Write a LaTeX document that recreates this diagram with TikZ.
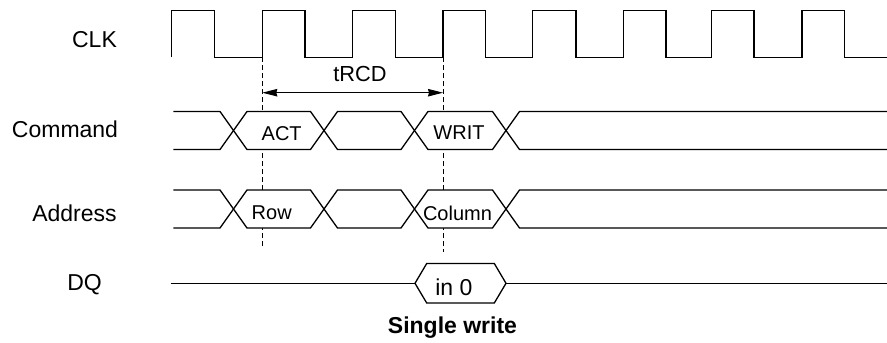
\documentclass[tikz,border=0pt]{standalone}
\usepackage{fontspec}
\setmainfont{Liberation Sans}
\usetikzlibrary{arrows.meta}
\begin{document}
\begin{tikzpicture}[x=1pt,y=-1pt,
  wave/.style={line width=1.3pt, line join=miter},
  bus/.style={line width=1.3pt, line join=miter, fill=white},
  lbl/.style={font=\fontsize{23}{24}\selectfont, inner sep=0pt},
  buslbl/.style={font=\fontsize{20}{21}\selectfont, inner sep=0pt},
  guide/.style={line width=0.9pt, dash pattern=on 5pt off 3pt},
  dim/.style={line width=1pt, {Stealth[length=15pt,width=7.5pt,inset=1pt]}-{Stealth[length=15pt,width=7.5pt,inset=1pt]}}]
\useasboundingbox (0,0) rectangle (887,343);

% guides
\coordinate (g1top) at (262.3,57.3);
\coordinate (g1bot) at (262.3,247);
\coordinate (g2top) at (443,57.3);
\coordinate (g2bot) at (443,252);
\draw[guide] (g1top) -- (g1bot);
\draw[guide] (g2top) -- (g2bot);

% clock
\draw[wave] (171.7,57.3) -- (171.7,10.7) -- (214.3,10.7) -- (214.3,57.3)
  -- (262.3,57.3) -- (262.3,10.7) -- (305,10.7) -- (305,57.3)
  -- (352.7,57.3) -- (352.7,10.7) -- (395.7,10.7) -- (395.7,57.3)
  -- (443,57.3) -- (443,10.7) -- (485.3,10.7) -- (485.3,57.3)
  -- (532.7,57.3) -- (532.7,10.7) -- (576,10.7) -- (576,57.3)
  -- (623.3,57.3) -- (623.3,10.7) -- (666,10.7) -- (666,57.3)
  -- (711.7,57.3) -- (711.7,10.7) -- (754,10.7) -- (754,57.3)
  -- (802,57.3) -- (802,10.7) -- (844.3,10.7) -- (844.3,57.3)
  -- (887,57.3);

% command bus
\def\T{111.5}\def\B{149.5}\def\M{130.5}
\draw[bus] (173.3,\T) -- (220,\T) -- (233.5,\M) -- (220,\B) -- (173.3,\B);
\draw[bus] (233.5,\M) -- (247,\T) -- (310.5,\T) -- (324,\M) -- (310.5,\B) -- (247,\B) -- cycle;
\draw[bus] (324,\M) -- (337.5,\T) -- (401,\T) -- (414.5,\M) -- (401,\B) -- (337.5,\B) -- cycle;
\draw[bus] (414.5,\M) -- (428,\T) -- (492.5,\T) -- (506,\M) -- (492.5,\B) -- (428,\B) -- cycle;
\draw[bus] (887,\T) -- (519.5,\T) -- (506,\M) -- (519.5,\B) -- (887,\B);

% address bus
\def\T{190}\def\B{228}\def\M{209}
\draw[bus] (173.3,\T) -- (220,\T) -- (233.5,\M) -- (220,\B) -- (173.3,\B);
\draw[bus] (233.5,\M) -- (247,\T) -- (310.5,\T) -- (324,\M) -- (310.5,\B) -- (247,\B) -- cycle;
\draw[bus] (324,\M) -- (337.5,\T) -- (401,\T) -- (414.5,\M) -- (401,\B) -- (337.5,\B) -- cycle;
\draw[bus] (414.5,\M) -- (428,\T) -- (492.5,\T) -- (506,\M) -- (492.5,\B) -- (428,\B) -- cycle;
\draw[bus] (887,\T) -- (519.5,\T) -- (506,\M) -- (519.5,\B) -- (887,\B);

% DQ
\draw[wave] (170.7,283.3) -- (415,283.3);
\draw[bus] (415,283.3) -- (426.7,263.5) -- (494.3,263.5) -- (506,283.3) -- (494.3,303) -- (426.7,303) -- cycle;
\draw[wave] (506,283.3) -- (887,283.3);

% tRCD
\coordinate (a1) at (262.3,92.7);
\coordinate (a2) at (443,92.7);
\draw[dim] (a1) -- (a2);
\node[font=\fontsize{21.8}{22}\selectfont, inner sep=0pt] (trcd) at (360,74) {tRCD};

% labels
\node[lbl] (clk) at (94.5,39.5) {CLK};
\node[lbl] (cmd) at (65,129) {Command};
\node[lbl] (addr) at (74.5,213) {Address};
\node[lbl] (dq) at (84.5,285) {DQ};

\node[buslbl] (act) at (281.7,133.3) {ACT};
\node[buslbl] (writ) at (459,133) {WRIT};
\node[buslbl] (row) at (271.7,213) {Row};
\node[buslbl] (col) at (457.5,213) {Column};
\node[lbl] (in0) at (453.8,287) {in 0};

\node[lbl, font=\fontsize{23}{24}\selectfont\bfseries] (title) at (452.5,327.5) {Single write};
\end{tikzpicture}
\end{document}
